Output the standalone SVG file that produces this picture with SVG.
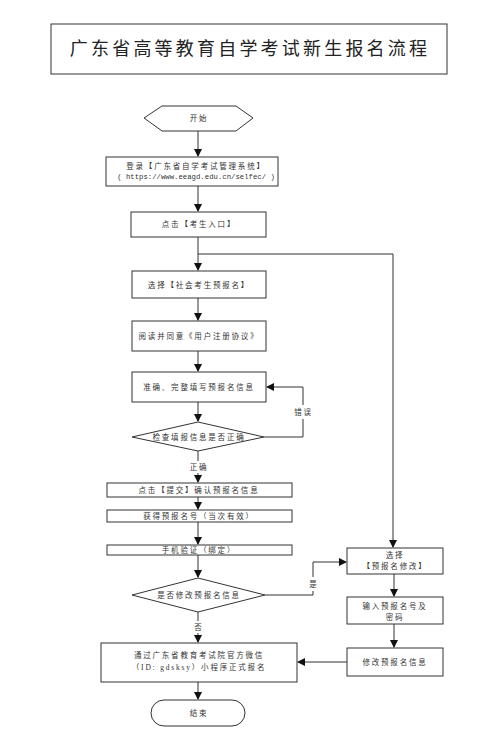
<svg xmlns="http://www.w3.org/2000/svg" width="499" height="736" viewBox="0 0 499 736">
<style>
.box{fill:#fff;stroke:#333;stroke-width:1}
.ln{fill:none;stroke:#333;stroke-width:1}
.t{font-family:"Liberation Serif","Noto Sans CJK SC",serif;font-size:7.5px;letter-spacing:1.8px;fill:#333;text-anchor:middle;dominant-baseline:central}
.m{font-family:"Liberation Mono","Noto Sans CJK SC",monospace;font-size:7.3px;fill:#333;text-anchor:middle;dominant-baseline:central}
.title{font-family:"Liberation Serif","Noto Sans CJK SC",serif;font-size:18px;letter-spacing:3.2px;fill:#222;text-anchor:middle;dominant-baseline:central}
.lbl{fill:#fff;stroke:none}
</style>
<defs>
<marker id="ah" markerWidth="8" markerHeight="8" refX="7" refY="4" orient="auto" markerUnits="userSpaceOnUse">
<path d="M0,0 L8,4 L0,8 Z" fill="#111"/>
</marker>
</defs>
<rect width="499" height="736" fill="#fff"/>

<g id="title">
<rect class="box" x="51" y="24" width="396" height="50" stroke-width="1.2"/>
<text class="title" x="250" y="49">广东省高等教育自学考试新生报名流程</text>
</g>

<g id="connectors">
<path class="ln" d="M198,131 V156" marker-end="url(#ah)"/>
<path class="ln" d="M198,186 V211" marker-end="url(#ah)"/>
<path class="ln" d="M198,237 V270" marker-end="url(#ah)"/>
<path class="ln" d="M198,254 H393 V547" marker-end="url(#ah)"/>
<path class="ln" d="M198,298 V320" marker-end="url(#ah)"/>
<path class="ln" d="M198,351 V371" marker-end="url(#ah)"/>
<path class="ln" d="M198,402 V421" marker-end="url(#ah)"/>
<path class="ln" d="M264,437 H303 V387 H267" marker-end="url(#ah)"/>
<rect class="lbl" x="293" y="405" width="20" height="14"/>
<text class="t" x="303.5" y="412">错误</text>
<path class="ln" d="M198,451 V482" marker-end="url(#ah)"/>
<rect class="lbl" x="187" y="461" width="22" height="12"/>
<text class="t" x="199" y="467">正确</text>
<path class="ln" d="M198,497 V509" marker-end="url(#ah)"/>
<path class="ln" d="M198,522 V544" marker-end="url(#ah)"/>
<path class="ln" d="M198,555 V577" marker-end="url(#ah)"/>
<path class="ln" d="M265,595 H313 V562 H346" marker-end="url(#ah)"/>
<rect class="lbl" x="307" y="577" width="12" height="14"/>
<text class="t" x="314" y="584">是</text>
<path class="ln" d="M198,612 V642" marker-end="url(#ah)"/>
<rect class="lbl" x="192" y="621" width="12" height="12"/>
<text class="t" x="199" y="627">否</text>
<path class="ln" d="M394,574 V596" marker-end="url(#ah)"/>
<path class="ln" d="M394,624 V647" marker-end="url(#ah)"/>
<path class="ln" d="M347,662 H298" marker-end="url(#ah)"/>
<path class="ln" d="M198,682 V699" marker-end="url(#ah)"/>
</g>

<g id="start">
<polygon class="box" points="144,118 162,106 236,106 253,118 236,131 162,131"/>
<text class="t" x="199" y="118">开始</text>
</g>

<g id="login">
<rect class="box" x="106" y="157" width="172" height="29"/>
<text class="t" x="196" y="166">登录【广东省自学考试管理系统】</text>
<text class="m" x="196" y="177">( https://www.eeagd.edu.cn/selfec/ )</text>
</g>

<g id="entry">
<rect class="box" x="131" y="212" width="135" height="25"/>
<text class="t" x="199" y="224.5">点击【考生入口】</text>
</g>

<g id="select">
<rect class="box" x="132" y="271" width="134" height="27"/>
<text class="t" x="199" y="285">选择【社会考生预报名】</text>
</g>

<g id="agree">
<rect class="box" x="132" y="321" width="134" height="30"/>
<text class="t" x="199" y="336">阅读并同意《用户注册协议》</text>
</g>

<g id="fill">
<rect class="box" x="132" y="372" width="134" height="30"/>
<text class="t" x="199" y="387">准确、完整填写预报名信息</text>
</g>

<g id="check">
<polygon class="box" points="132,437 198,422 264,437 198,451"/>
<text class="t" x="199" y="437">检查填报信息是否正确</text>
</g>

<g id="submit">
<rect class="box" x="107" y="483" width="185" height="14"/>
<text class="t" x="199" y="490">点击【提交】确认预报名信息</text>
</g>

<g id="number">
<rect class="box" x="107" y="510" width="185" height="12"/>
<text class="t" x="199" y="516">获得预报名号（当次有效）</text>
</g>

<g id="phone">
<rect class="box" x="107" y="545" width="185" height="10"/>
<text class="t" x="199" y="550">手机验证（绑定）</text>
</g>

<g id="modifyq">
<polygon class="box" points="132,595 198,578 265,595 198,612"/>
<text class="t" x="199" y="595">是否修改预报名信息</text>
</g>

<g id="selmod">
<rect class="box" x="347" y="548" width="96" height="26"/>
<text class="t" x="395" y="555">选择</text>
<text class="t" x="395" y="566">【预报名修改】</text>
</g>

<g id="input">
<rect class="box" x="347" y="597" width="96" height="27"/>
<text class="t" x="395" y="606">输入预报名号及</text>
<text class="t" x="395" y="617">密码</text>
</g>

<g id="modify">
<rect class="box" x="347" y="648" width="96" height="28"/>
<text class="t" x="395" y="662">修改预报名信息</text>
</g>

<g id="final">
<rect class="box" x="101" y="643" width="196" height="39"/>
<text class="t" x="199" y="655">通过广东省教育考试院官方微信</text>
<text class="t" x="199" y="667">（ID: gdsksy）小程序正式报名</text>
</g>

<g id="end">
<rect class="box" x="151" y="700" width="94" height="26" rx="13" ry="13"/>
<text class="t" x="199" y="713">结束</text>
</g>
</svg>
